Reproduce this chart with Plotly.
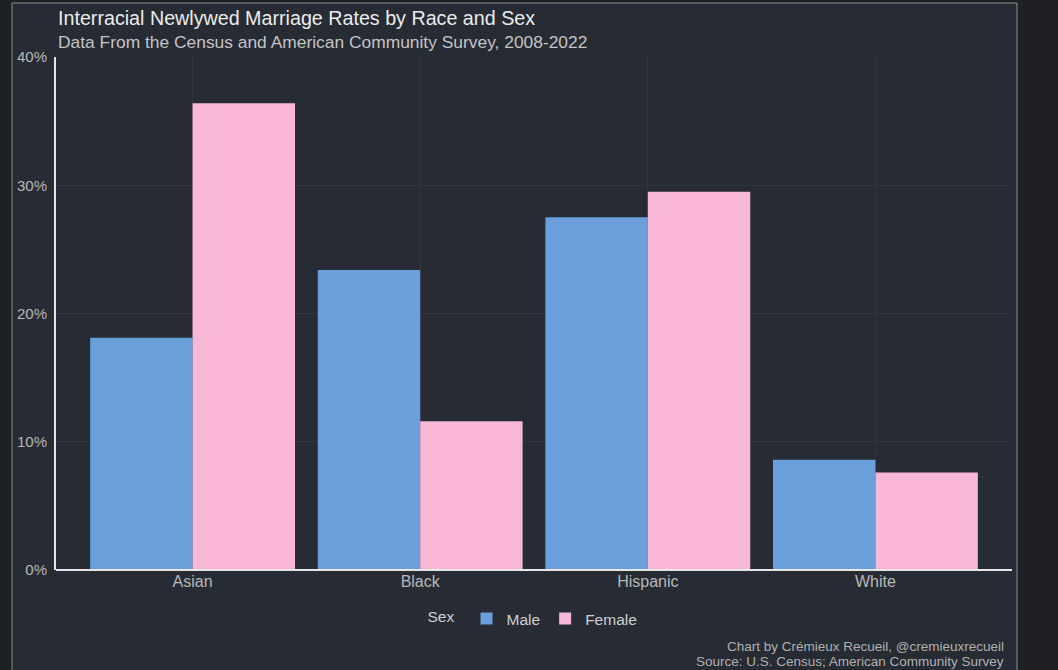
import plotly.graph_objects as go

races = ["Asian", "Black", "Hispanic", "White"]
male = [18.1, 23.4, 27.5, 8.6]
female = [36.4, 11.6, 29.5, 7.6]
y_ticks = [0, 10, 20, 30, 40]
y_tick_labels = ["0%", "10%", "20%", "30%", "40%"]

W, H = 1058, 670
L, R, T, B = 56, 46, 57, 100
pw, ph = W - L - R, H - T - B

def px_x(x):
    return (x - L) / pw

def px_y(y):
    return (H - B - y) / ph

BG = "#262b34"
OUT = "#1f2023"
FONT = "Liberation Sans, Arial, sans-serif"

fig = go.Figure()
fig.add_trace(go.Bar(name="Male", x=races, y=male, marker_color="#6a9fdb",
                     marker_line_width=0))
fig.add_trace(go.Bar(name="Female", x=races, y=female, marker_color="#f7b7d5",
                     marker_line_width=0))

fig.update_layout(
    width=W, height=H,
    margin=dict(l=L, r=R, t=T, b=B, autoexpand=False),
    paper_bgcolor=OUT, plot_bgcolor=BG,
    barmode="group", bargap=0.1, bargroupgap=0,
    font=dict(family=FONT, color="#c0c0c0"),
    showlegend=True,
    legend=dict(orientation="h", x=0.5, xanchor="center", y=px_y(619), yanchor="middle",
                title=dict(text="Sex ", font=dict(size=15.5, color="#d0d0d0")),
                font=dict(size=15.5, color="#d0d0d0"), bgcolor="rgba(0,0,0,0)",
                itemwidth=30, tracegroupgap=0),
    xaxis=dict(range=[-0.6, 3.6], showgrid=True, gridcolor="#30353e", gridwidth=1,
               showline=False, zeroline=False, ticks="",
               tickfont=dict(size=16, color="#b8b8b8"), fixedrange=True),
    yaxis=dict(range=[0, 40], tickvals=y_ticks, ticktext=y_tick_labels,
               showgrid=True, gridcolor="#30353e", gridwidth=1,
               showline=True, linecolor="#e6e6e6", linewidth=2,
               zeroline=False, ticks="", ticklabelstandoff=4,
               tickfont=dict(size=15, color="#b8b8b8"), fixedrange=True),
    shapes=[
        dict(type="rect", xref="paper", yref="paper", layer="below",
             x0=px_x(12), x1=px_x(1017), y0=px_y(700), y1=px_y(3),
             fillcolor=BG, line=dict(color="#8a8d92", width=1)),
        dict(type="line", xref="paper", yref="paper", layer="above",
             x0=px_x(56), x1=px_x(1012), y0=0, y1=0,
             line=dict(color="#e6e6e6", width=2)),
    ],
    annotations=[
        dict(text="Interracial Newlywed Marriage Rates by Race and Sex",
             xref="paper", yref="paper", x=px_x(56), y=px_y(18),
             xanchor="left", yanchor="middle", showarrow=False,
             font=dict(size=19.7, color="#ececec")),
        dict(text="Data From the Census and American Community Survey, 2008-2022",
             xref="paper", yref="paper", x=px_x(56), y=px_y(42),
             xanchor="left", yanchor="middle", showarrow=False,
             font=dict(size=17.4, color="#c4c4c4")),
        dict(text="Chart by Crémieux Recueil, @cremieuxrecueil",
             xref="paper", yref="paper", x=px_x(1006), y=px_y(646),
             xanchor="right", yanchor="middle", align="right", showarrow=False,
             font=dict(size=13.5, color="#b0b0b0")),
        dict(text="Source: U.S. Census; American Community Survey",
             xref="paper", yref="paper", x=px_x(1006), y=px_y(661),
             xanchor="right", yanchor="middle", align="right", showarrow=False,
             font=dict(size=13.5, color="#b0b0b0")),
    ],
)

fig.write_html("out.html", config={"displayModeBar": False},
               post_script="document.body.style.margin='0';document.body.style.background='#1f2023';")
